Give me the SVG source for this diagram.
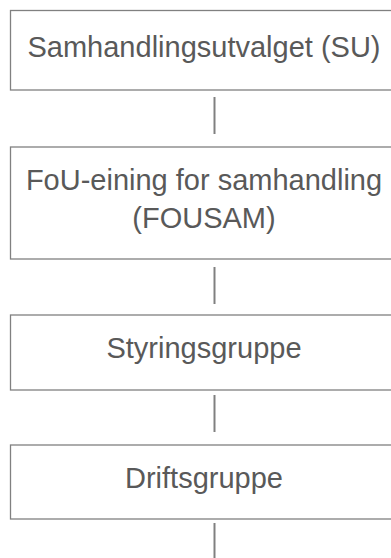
<svg xmlns="http://www.w3.org/2000/svg" width="391" height="558" viewBox="0 0 391 558">
<style>
.box{fill:#fff;stroke:#808080;stroke-width:1.3}
.lbl{font-family:"Liberation Sans",Arial,sans-serif;font-size:29px;fill:#595959;text-anchor:middle}
.con{stroke:#808080;stroke-width:2;fill:none}
</style>
<rect width="391" height="558" fill="#fff"/>
<g id="connectors">
<line class="con" x1="214.5" y1="97" x2="214.5" y2="134"/>
<line class="con" x1="214.5" y1="267" x2="214.5" y2="304"/>
<line class="con" x1="214.5" y1="395" x2="214.5" y2="432"/>
<line class="con" x1="214.5" y1="523" x2="214.5" y2="558"/>
</g>
<g id="node-su">
<rect class="box" x="10.5" y="10.5" width="420" height="79.5"/>
<text class="lbl" x="204" y="56.5">Samhandlingsutvalget (SU)</text>
</g>
<g id="node-fousam">
<rect class="box" x="10.5" y="147" width="420" height="112"/>
<text class="lbl" x="204" y="190">FoU-eining for samhandling</text>
<text class="lbl" x="204" y="228">(FOUSAM)</text>
</g>
<g id="node-styring">
<rect class="box" x="10.5" y="315" width="420" height="75"/>
<text class="lbl" x="204" y="357.5">Styringsgruppe</text>
</g>
<g id="node-drift">
<rect class="box" x="10.5" y="445" width="420" height="74"/>
<text class="lbl" x="204" y="488">Driftsgruppe</text>
</g>
</svg>
